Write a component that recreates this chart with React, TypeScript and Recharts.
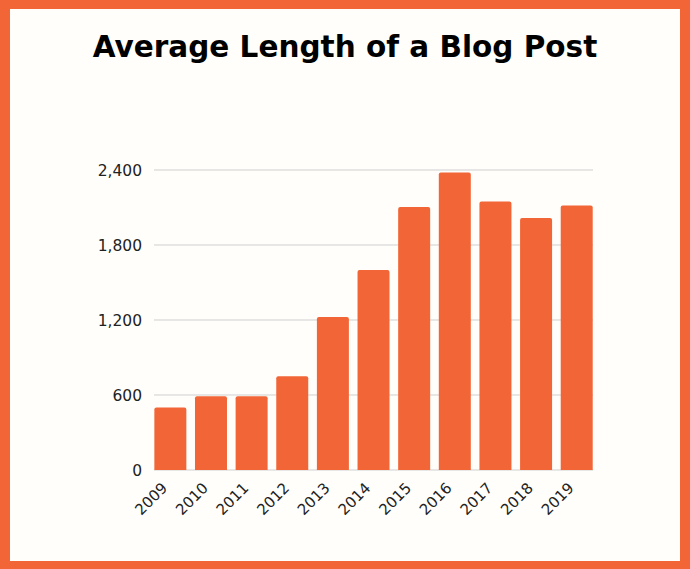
import React from "react";
import { BarChart, Bar, XAxis, YAxis, CartesianGrid } from "recharts";

const years = ["2009", "2010", "2011", "2012", "2013", "2014", "2015", "2016", "2017", "2018", "2019"];
const wordCounts = [500, 590, 590, 750, 1224, 1600, 2104, 2381, 2149, 2016, 2117];
const yTicks = [0, 600, 1200, 1800, 2400];

const data = years.map((year, i) => ({ year, words: wordCounts[i] }));

const ORANGE = "#F26537";
const CREAM = "#FFFEFA";
const FONT = "'DejaVu Sans', sans-serif";

const XTick = (props: any) => {
  const { x, y, payload } = props;
  return (
    <g transform={`translate(${x - 2},${y + 19})`}>
      <text
        x={0}
        y={0}
        textAnchor="end"
        transform="rotate(-45)"
        fill="#222"
        fontSize={15}
        fontFamily={FONT}
      >
        {payload.value}
      </text>
    </g>
  );
};

// grid lines inset slightly so they end flush with the outer bars
const GridLine = (props: any) => {
  const { x1, x2, y1, y2 } = props;
  return <line x1={x1 + 4} x2={x2 - 4} y1={y1} y2={y2} stroke="#cfcfcf" strokeWidth={1} />;
};

export default function App() {
  return (
    <div
      style={{
        position: "absolute",
        left: 0,
        top: 0,
        width: 690,
        height: 569,
        boxSizing: "border-box",
        background: CREAM,
        borderStyle: "solid",
        borderColor: ORANGE,
        borderWidth: "9px 10px 8px 10px",
        overflow: "hidden",
      }}
    >
      <div
        style={{
          position: "absolute",
          left: -10,
          top: 21,
          width: 690,
          textAlign: "center",
          fontFamily: FONT,
          fontWeight: 700,
          fontSize: 29.5,
          color: "#000",
          whiteSpace: "nowrap",
        }}
      >
        Average Length of a Blog Post
      </div>
      <div style={{ position: "absolute", left: -10, top: -9 }}>
        <BarChart
          width={690}
          height={569}
          data={data}
          margin={{ top: 170, right: 93, bottom: 0, left: 0 }}
          barCategoryGap="10.7%"
        >
          <CartesianGrid vertical={false} horizontal={<GridLine />} />
          <XAxis
            dataKey="year"
            axisLine={false}
            tickLine={false}
            tickSize={0}
            tickMargin={0}
            height={99}
            interval={0}
            tick={<XTick />}
          />
          <YAxis
            domain={[0, 2400]}
            ticks={yTicks}
            width={150}
            axisLine={false}
            tickLine={false}
            tickSize={0}
            tickMargin={8}
            tick={{ fill: "#222", fontSize: 15.5, fontFamily: FONT }}
            tickFormatter={(v: number) => v.toLocaleString("en-US")}
          />
          <Bar dataKey="words" fill={ORANGE} radius={[2, 2, 0, 0]} isAnimationActive={false} />
        </BarChart>
      </div>
    </div>
  );
}
